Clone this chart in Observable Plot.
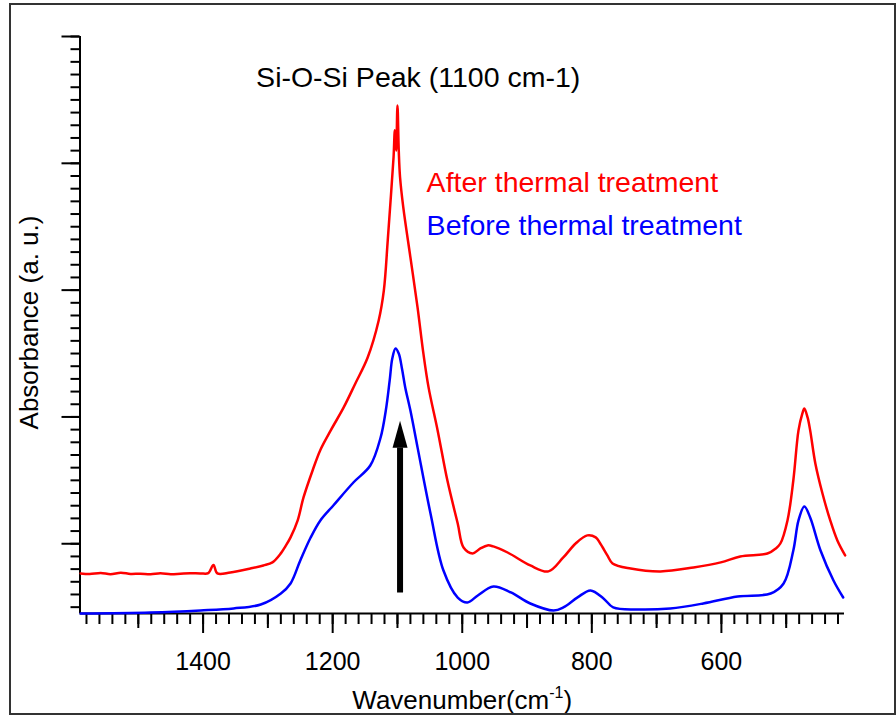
<!DOCTYPE html>
<html>
<head>
<meta charset="utf-8">
<script src="https://cdn.jsdelivr.net/npm/d3@7"></script>
<script src="https://cdn.jsdelivr.net/npm/@observablehq/plot@0.6"></script>
<style>
  html, body { margin: 0; padding: 0; background: #fff; overflow: hidden; }
  #wrap { position: relative; width: 896px; height: 715px; }
  #wrap svg { display: block; }
  #border {
    position: absolute; left: 9px; top: 3px; width: 887px; height: 712px;
    box-sizing: border-box; border: 2px solid #333; pointer-events: none;
  }
</style>
</head>
<body>
<div id="wrap"><div id="border"></div></div>
<script>
// FTIR spectra (absorbance, arbitrary units) versus wavenumber in cm-1
const wnAfter = [1589, 1575, 1558, 1543, 1527, 1512, 1497, 1481, 1466, 1450, 1435, 1420, 1404, 1392,
  1384, 1378, 1358, 1327, 1307, 1293, 1280, 1273, 1265, 1254, 1245, 1231, 1219, 1203, 1183, 1165,
  1146, 1129, 1121, 1115, 1110, 1106, 1104, 1102, 1100, 1098, 1096, 1091, 1080, 1069, 1060, 1052,
  1038, 1023, 1007, 998, 984, 972, 961, 952, 930, 895, 867, 844, 825, 807, 794, 787, 776, 768, 740,
  694, 643, 601, 571, 529, 516, 509, 498, 489, 481, 475, 472, 467, 463, 455, 444, 432, 421, 409];
const absAfter = [-0.234, -0.238, -0.230, -0.240, -0.228, -0.238, -0.236, -0.240, -0.232, -0.240,
  -0.236, -0.232, -0.234, -0.232, -0.167, -0.234, -0.226, -0.195, -0.171, -0.147, -0.076, -0.021,
  0.05, 0.184, 0.365, 0.578, 0.74, 0.894, 1.075, 1.264, 1.469, 1.761, 1.998, 2.392, 2.75, 3.05,
  3.26, 3.10, 3.456, 3.10, 2.89, 2.652, 2.258, 1.864, 1.501, 1.233, 0.894, 0.5, 0.16, -0.029,
  -0.076, -0.037, -0.013, -0.021, -0.069, -0.171, -0.218, -0.108, 0.002, 0.066, 0.05, 0.002,
  -0.092, -0.155, -0.195, -0.218, -0.187, -0.147, -0.1, -0.077, -0.037, 0.002, 0.184, 0.499, 0.894,
  1.028, 1.067, 0.996, 0.894, 0.633, 0.396, 0.184, 0.026, -0.092];

const wnBefore = [1589, 1481, 1404, 1353, 1311, 1280, 1265, 1250, 1234, 1219, 1199, 1168, 1142,
  1126, 1118, 1112, 1108, 1103, 1098, 1093, 1088, 1080, 1069, 1049, 1029, 1007, 992, 976,
  952, 925, 895, 859, 844, 822, 802, 782, 767, 730, 679, 628, 575, 524, 504, 489, 481, 472, 463,
  447, 427, 412];
const absBefore = [-0.55, -0.542, -0.526, -0.51, -0.479, -0.392, -0.313, -0.132, 0.049, 0.184,
  0.302, 0.483, 0.617, 0.838, 1.051, 1.288, 1.46, 1.54, 1.50, 1.38, 1.233, 1.05, 0.76,
  0.239, -0.211, -0.424, -0.463, -0.408, -0.337, -0.384, -0.471, -0.526, -0.502, -0.423, -0.368,
  -0.431, -0.502, -0.518, -0.51, -0.471, -0.416, -0.392, -0.313, -0.053, 0.184, 0.294, 0.207,
  -0.053, -0.29, -0.424];

const seriesNames = ["After thermal treatment", "Before thermal treatment"];
const seriesColors = ["#ff0000", "#0000ff"];

// axis ticks
const xDomain = [1590, 410];
const yDomain = [-0.55, 4.0];
const xMajorTicks = [1400, 1200, 1000, 800, 600];
const xMidTicks = [1500, 1300, 1100, 900, 700, 500];
const xMinorTicks = d3.range(1580, 410, -20);
const yMajorTicks = [0, 1, 2, 3, 4];
const yMinorTicks = d3.range(-5, 41).map(d => d / 10);

// annotations
const peakLabel = "Si-O-Si Peak (1100 cm-1)";
const arrow = {wn: 1096, from: -0.384, shaftTop: 0.76, tip: 0.97};

const after = wnAfter.map((wn, i) => ({wn, a: absAfter[i]}));
const before = wnBefore.map((wn, i) => ({wn, a: absBefore[i]}));

const peakNote = [{text: peakLabel, wn: 1068, a: 3.598}];
const legendNotes = [
  {text: seriesNames[0], wn: 1055, a: 2.773, color: seriesColors[0]},
  {text: seriesNames[1], wn: 1055, a: 2.431, color: seriesColors[1]}
];

// filled, elongated arrowhead with its tip at the symbol origin
const arrowHead = {
  draw(context) {
    context.moveTo(0, 0);
    context.lineTo(7.5, 27);
    context.lineTo(-7.5, 27);
    context.closePath();
  }
};

const font = "'Liberation Sans', Arial, Helvetica, sans-serif";

const chart = Plot.plot({
  width: 896,
  height: 715,
  marginLeft: 79.5,
  marginRight: 52,
  marginTop: 36,
  marginBottom: 102,
  style: {fontFamily: font, fontSize: "25px", color: "#000", background: "transparent"},
  x: {domain: xDomain, label: null},
  y: {domain: yDomain, label: null},
  marks: [
    // left axis: minor and major outward ticks, no labels
    Plot.axisY(yMinorTicks, {anchor: "left", tickSize: 9, strokeWidth: 2, tickFormat: () => "", label: null}),
    Plot.axisY(yMajorTicks, {anchor: "left", tickSize: 18, strokeWidth: 2, tickFormat: () => "", label: null}),
    // bottom axis: minor, mid and labelled major ticks
    Plot.axisX(xMinorTicks, {anchor: "bottom", tickSize: 11, strokeWidth: 2, tickFormat: () => "", label: null}),
    Plot.axisX(xMidTicks, {anchor: "bottom", tickSize: 15, strokeWidth: 2, tickFormat: () => "", label: null}),
    Plot.axisX(xMajorTicks, {anchor: "bottom", tickSize: 20, tickPadding: 19, strokeWidth: 2,
      fontSize: 25, tickFormat: d => String(d), label: null}),
    Plot.ruleX([xDomain[0]], {stroke: "#000", strokeWidth: 2}),
    Plot.ruleY([yDomain[0]], {stroke: "#000", strokeWidth: 2}),
    // spectra
    Plot.line(before, {x: "wn", y: "a", stroke: seriesColors[1], strokeWidth: 2.5, curve: "catmull-rom"}),
    Plot.line(after, {x: "wn", y: "a", stroke: seriesColors[0], strokeWidth: 2.5, curve: "catmull-rom"}),
    // arrow pointing to the peak
    Plot.link([arrow], {x1: "wn", x2: "wn", y1: "from", y2: "shaftTop", stroke: "#000", strokeWidth: 6}),
    Plot.dot([arrow], {x: "wn", y: "tip", symbol: arrowHead, fill: "#000", stroke: "none"}),
    // annotations
    Plot.text(peakNote, {x: "wn", y: "a", text: "text", fill: "#000", textAnchor: "middle",
      lineAnchor: "bottom", fontSize: 28.5}),
    Plot.text(legendNotes, {x: "wn", y: "a", text: "text", fill: "color", textAnchor: "start",
      lineAnchor: "bottom", fontSize: 28.5}),
    // axis titles
    Plot.text(["Absorbance (a. u.)"], {frameAnchor: "left", rotate: -90, lineAnchor: "bottom",
      textAnchor: "middle", dx: -42.5, dy: -2.5, fontSize: 26}),
    Plot.text(["Wavenumber(cm-1)"], {frameAnchor: "bottom", lineAnchor: "bottom",
      textAnchor: "middle", dy: 95, fontSize: 26})
  ]
});

// superscript exponent in the x-axis title
d3.select(chart).selectAll("text")
  .filter(function () { return this.textContent === "Wavenumber(cm-1)"; })
  .each(function () {
    const t = d3.select(this);
    t.text(null);
    t.append("tspan").text("Wavenumber(cm");
    t.append("tspan").attr("dy", -11).attr("font-size", 16).text("-1");
    t.append("tspan").attr("dy", 11).text(")");
  });

document.getElementById("wrap").prepend(chart);
</script>
</body>
</html>
